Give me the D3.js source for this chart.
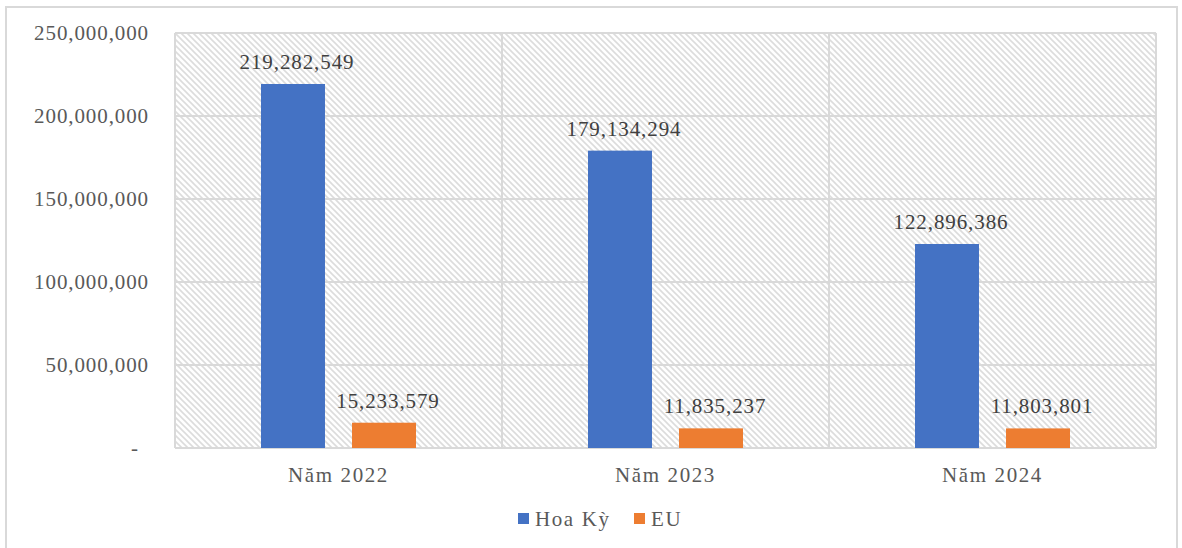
<!DOCTYPE html>
<html>
<head>
<meta charset="utf-8">
<script src="https://cdn.jsdelivr.net/npm/d3@7"></script>
<style>
  html, body { margin: 0; padding: 0; background: #fff; }
  svg { display: block; }
</style>
</head>
<body>
<svg id="chart" width="1182" height="548"></svg>
<script>
// Export values by year and market
const categories = ["Năm 2022", "Năm 2023", "Năm 2024"];
const seriesNames = ["Hoa Kỳ", "EU"];
const hoaKy = [219282549, 179134294, 122896386];
const eu = [15233579, 11835237, 11803801];
const seriesColors = ["#4472C4", "#ED7D31"];
const yTicks = [0, 50000000, 100000000, 150000000, 200000000, 250000000];

const values = [hoaKy, eu];
const rows = categories.map((c, i) => ({
  category: c,
  items: seriesNames.map((s, j) => ({ series: s, value: values[j][i], color: seriesColors[j] }))
}));

const FONT = "'Liberation Serif', 'Times New Roman', serif";
const svg = d3.select("#chart");
const W = 1182, H = 548;
const margin = { left: 175, right: 26, top: 33, bottom: 100 };
const plotW = W - margin.left - margin.right;
const plotH = H - margin.top - margin.bottom;

// Diagonal hatch fill for the plot area
const defs = svg.append("defs");
const pat = defs.append("pattern")
  .attr("id", "hatch")
  .attr("patternUnits", "userSpaceOnUse")
  .attr("width", 6).attr("height", 6);
pat.append("rect").attr("width", 6).attr("height", 6).attr("fill", "#ffffff");
pat.append("path")
  .attr("d", "M-1,-1 L7,7 M-4,2 L2,8 M4,-2 L8,2")
  .attr("stroke", "#dcdcdc").attr("stroke-width", 1.6);

// Outer chart frame
svg.append("rect")
  .attr("x", 6).attr("y", 7).attr("width", 1171).attr("height", 560)
  .attr("fill", "#fff").attr("stroke", "#d9d9d9").attr("stroke-width", 2);

const g = svg.append("g").attr("transform", `translate(${margin.left},${margin.top})`);

const y = d3.scaleLinear().domain([0, 250000000]).range([plotH, 0]);
const x0 = d3.scaleBand().domain(categories).range([0, plotW])
  .paddingInner(1 - 155 / 327).paddingOuter((1 - 155 / 327) / 2);
const x1 = d3.scaleBand().domain(seriesNames).range([0, x0.bandwidth()]).paddingInner(0.297);

// Plot background
g.append("rect").attr("width", plotW).attr("height", plotH).attr("fill", "url(#hatch)");

// Horizontal gridlines
g.append("g")
  .selectAll("line").data(yTicks).join("line")
  .attr("x1", 0).attr("x2", plotW)
  .attr("y1", d => y(d)).attr("y2", d => y(d))
  .attr("stroke", "#d9d9d9").attr("stroke-width", 2);

// Vertical category separators
const step = x0.step();
g.append("g")
  .selectAll("line").data(d3.range(categories.length + 1)).join("line")
  .attr("x1", d => d * step).attr("x2", d => d * step)
  .attr("y1", 0).attr("y2", plotH)
  .attr("stroke", "#d9d9d9").attr("stroke-width", 2);

// Y axis labels
const fmt = d => d === 0 ? "-" : d3.format(",")(d);
const yAxis = d3.axisLeft(y).tickValues(yTicks).tickFormat(fmt).tickSize(0).tickPadding(0);
const yg = g.append("g").attr("transform", "translate(-26,0)").call(yAxis);
yg.select(".domain").remove();
yg.selectAll("text")
  .attr("font-family", FONT)
  .attr("font-size", 21).attr("letter-spacing", 0.9).attr("fill", "#595959")
  .attr("dx", d => d === 0 ? -10 : 0);

// Bars
const groups = g.append("g").selectAll("g").data(rows).join("g")
  .attr("transform", d => `translate(${x0(d.category)},0)`);

groups.selectAll("rect").data(d => d.items).join("rect")
  .attr("x", d => x1(d.series))
  .attr("y", d => y(d.value))
  .attr("width", x1.bandwidth())
  .attr("height", d => plotH - y(d.value))
  .attr("fill", d => d.color);

// Value labels
groups.selectAll("text").data(d => d.items).join("text")
  .attr("x", d => x1(d.series) + x1.bandwidth() / 2 + 4)
  .attr("y", d => y(d.value) - 15)
  .attr("text-anchor", "middle")
  .attr("font-family", FONT)
  .attr("font-size", 21).attr("letter-spacing", 0.9).attr("fill", "#404040")
  .text(d => d3.format(",")(d.value));

// Category axis labels
const xAxis = d3.axisBottom(x0).tickSize(0).tickPadding(0);
const xg = g.append("g").attr("transform", `translate(0,${plotH})`).call(xAxis);
xg.select(".domain").remove();
xg.selectAll("text")
  .attr("dy", 0).attr("y", 34)
  .attr("font-family", FONT)
  .attr("font-size", 21).attr("letter-spacing", 1.6).attr("fill", "#595959");

// Legend
const legend = svg.append("g").attr("transform", "translate(518,513)");
const legendX = [0, 116];
const li = legend.selectAll("g").data(seriesNames).join("g")
  .attr("transform", (d, i) => `translate(${legendX[i]},0)`);
li.append("rect").attr("width", 11).attr("height", 11).attr("fill", (d, i) => seriesColors[i]);
li.append("text")
  .attr("x", 17).attr("y", 13)
  .attr("font-family", FONT)
  .attr("font-size", 21).attr("letter-spacing", 1.6).attr("fill", "#595959")
  .text(d => d);
</script>
</body>
</html>
